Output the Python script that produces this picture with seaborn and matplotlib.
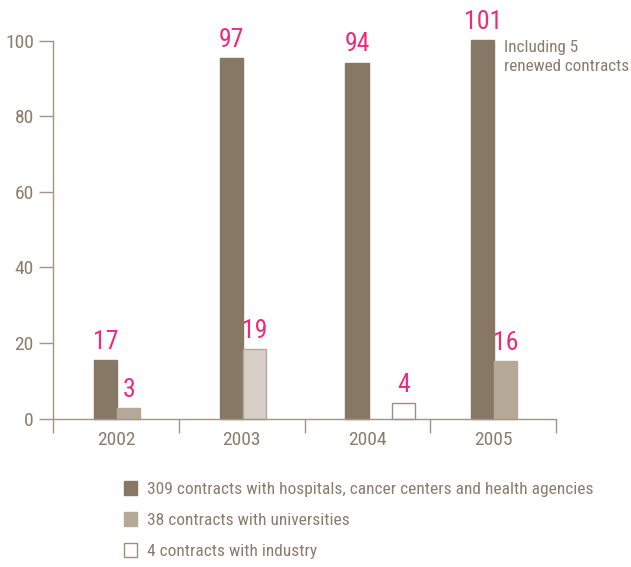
import matplotlib
matplotlib.use("Agg")
import matplotlib.pyplot as plt
from matplotlib import font_manager
from matplotlib.patches import Patch
import seaborn as sns
import pandas as pd

# ---------------- data ----------------
years = ["2002", "2003", "2004", "2005"]
types = ["hospitals", "universities", "industry"]
legend_labels = [
    "309 contracts with hospitals, cancer centers and health agencies",
    "38 contracts with universities",
    "4 contracts with industry",
]
# bar heights as drawn
hospitals_values = [15.5, 95.4, 94.2, 100.2]
universities_years = ["2002", "2003", "2005"]
universities_values = [2.8, 18.4, 15.3]
industry_years = ["2004"]
industry_values = [4.2]
# value labels printed above bars
hospitals_labels = ["17", "97", "94", "101"]
universities_labels = ["3", "19", "16"]
industry_labels = ["4"]
y_ticks = [0, 20, 40, 60, 80, 100]
note_text = "Including 5\nrenewed contracts"

# ---------------- style ----------------
sns.set_style("white")
entries = font_manager.fontManager.ttflist
chosen = None
for key in ["LiberationSansNarrow-Regular", "RobotoCondensed-Regular", "Roboto_Condensed",
            "DejaVuSansCondensed.ttf", "OpenSans_Condensed-Regular", "OpenSansCondensed"]:
    for e in entries:
        if key.lower() in e.fname.lower() and e.weight in (400, "normal", "regular") and e.style == "normal":
            chosen = e
            break
    if chosen:
        break
if chosen is not None:
    plt.rcParams["font.family"] = [chosen.name, "DejaVu Sans"]
    plt.rcParams["font.stretch"] = chosen.stretch
else:
    plt.rcParams["font.family"] = ["DejaVu Sans"]
    plt.rcParams["font.stretch"] = "condensed"

TEXT = "#8c7c6c"
AXIS = "#a39484"
PINK = "#ee2a7b"
C_HOSP = "#877765"
C_UNIV = "#b5a897"
C_UNIV_LIGHT = "#d8cfc8"
C_IND = "#ffffff"

rows = []
for y, v, l in zip(years, hospitals_values, hospitals_labels):
    rows.append(dict(year=y, type="hospitals", value=v, label=l))
for y, v, l in zip(universities_years, universities_values, universities_labels):
    rows.append(dict(year=y, type="universities", value=v, label=l))
for y, v, l in zip(industry_years, industry_values, industry_labels):
    rows.append(dict(year=y, type="industry", value=v, label=l))
df = pd.DataFrame(rows)

W, H = 631, 567
fig = plt.figure(figsize=(W / 100, H / 100), dpi=100)
ax = fig.add_axes([53.3 / W, 1 - 418.7 / H, (556 - 53.3) / W, (418.7 - 40.7) / H])

sns.barplot(data=df, x="year", y="value", hue="type", order=years, hue_order=types,
            palette=[C_HOSP, C_UNIV, C_IND], saturation=1, width=0.55, gap=0,
            ax=ax, legend=False, linewidth=0)

edge_map = {"hospitals": C_HOSP, "universities": C_UNIV, "industry": "#9d8d7d"}
for t, cont in zip(types, ax.containers):
    sub = df[df.type == t].set_index("year")
    for bar in cont:
        cx = bar.get_x() + bar.get_width() / 2
        yr = years[int(round(cx))]
        bar.set_clip_on(False)
        bar.set_edgecolor(edge_map[t])
        bar.set_linewidth(1.0)
        if t == "universities" and yr == "2003":
            bar.set_facecolor(C_UNIV_LIGHT)
            bar.set_edgecolor(C_UNIV)
        ax.annotate(sub.loc[yr, "label"], (cx, bar.get_height()),
                    xytext=(0, 4.5), textcoords="offset points",
                    ha="center", va="bottom", color=PINK, fontsize=18.5,
                    annotation_clip=False)
        if t == "hospitals" and yr == "2005":
            ax.annotate(note_text, (bar.get_x() + bar.get_width(), bar.get_height()),
                        xytext=(7, 0), textcoords="offset points",
                        ha="left", va="top", color=TEXT, fontsize=12.3,
                        linespacing=1.3, annotation_clip=False)

# axes
ax.set_ylim(0, 100)
ax.set_xlim(-0.6, 3.4)
ax.set_yticks(y_ticks)
ax.set_yticklabels([str(t) for t in y_ticks])
sep = [-0.6 + k for k in range(5)]
ax.set_xticks(sep)
ax.set_xticklabels([""] * len(sep))
ax.set_xticks([i - 0.1 for i in range(len(years))], minor=True)
ax.set_xticklabels(years, minor=True)
ax.set_xlabel("")
ax.set_ylabel("")
for s in ["top", "right"]:
    ax.spines[s].set_visible(False)
for s in ["left", "bottom"]:
    ax.spines[s].set_color(AXIS)
    ax.spines[s].set_linewidth(1.0)
ax.tick_params(axis="y", which="major", length=10, width=1.0, color=AXIS,
               labelcolor=TEXT, labelsize=14, pad=4, direction="out", left=True)
ax.tick_params(axis="x", which="major", length=10, width=1.0, color=AXIS,
               direction="out", bottom=True)
ax.tick_params(axis="x", which="minor", length=0, labelcolor=TEXT, labelsize=14, pad=9)

# legend
hl = [Patch(facecolor=C_HOSP, edgecolor=C_HOSP),
      Patch(facecolor=C_UNIV, edgecolor=C_UNIV),
      Patch(facecolor=C_IND, edgecolor="#9d8d7d", linewidth=1.0)]
fig.legend(handles=hl, labels=legend_labels, loc="upper left",
           bbox_to_anchor=(124 / W, 1 - 481 / H), frameon=False,
           fontsize=12.5, labelcolor=TEXT, handlelength=0.75, handleheight=0.9,
           handletextpad=0.6, labelspacing=0.85, borderpad=0, borderaxespad=0)

fig.savefig("out.png", dpi=100)
